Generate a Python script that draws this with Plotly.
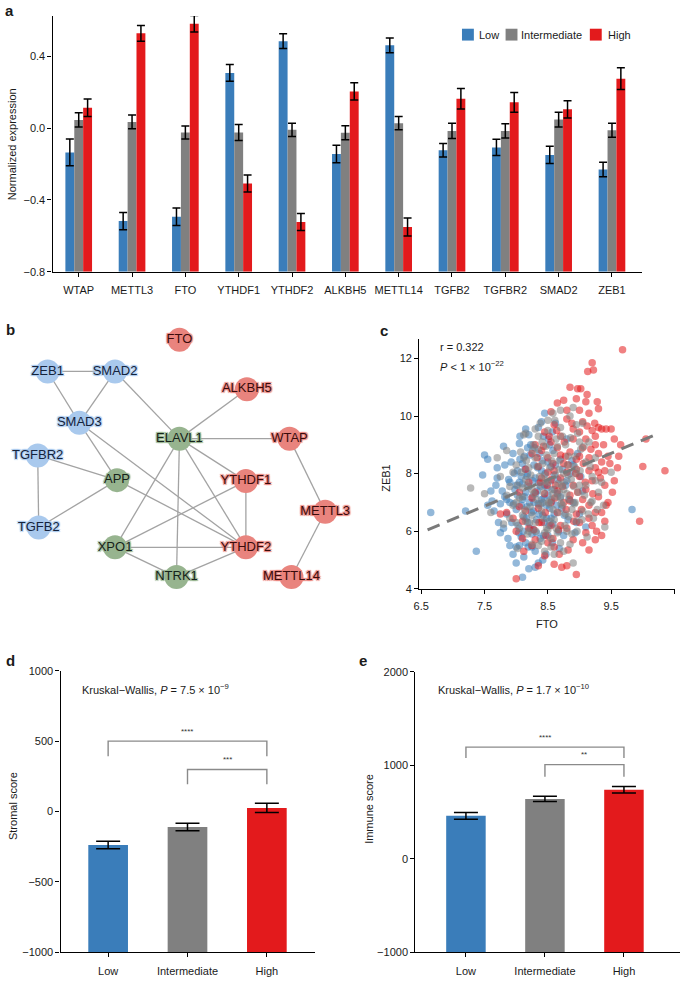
import plotly.graph_objects as go

# ---------------- data ----------------
genes = ["WTAP", "METTL3", "FTO", "YTHDF1", "YTHDF2", "ALKBH5", "METTL14",
         "TGFB2", "TGFBR2", "SMAD2", "ZEB1"]
low_vals = [-0.135, -0.518, -0.494, 0.308, 0.485, -0.144, 0.462, -0.123, -0.107, -0.149, -0.230]
low_err = [0.075, 0.048, 0.049, 0.047, 0.041, 0.049, 0.041, 0.037, 0.045, 0.048, 0.040]
int_vals = [0.046, 0.035, -0.024, -0.024, -0.009, -0.026, 0.028, -0.015, -0.015, 0.048, -0.011]
int_err = [0.040, 0.038, 0.036, 0.044, 0.037, 0.039, 0.037, 0.043, 0.040, 0.041, 0.039]
high_vals = [0.114, 0.529, 0.582, -0.308, -0.523, 0.205, -0.551, 0.164, 0.144, 0.105, 0.276]
high_err = [0.049, 0.044, 0.046, 0.047, 0.047, 0.048, 0.050, 0.057, 0.055, 0.048, 0.061]

groups = ["Low", "Intermediate", "High"]
colors = ["#3a7dba", "#808080", "#e31a1c"]

# network (panel b)
node_names = ["FTO", "ZEB1", "SMAD2", "ALKBH5", "SMAD3", "ELAVL1", "WTAP", "TGFBR2",
              "APP", "YTHDF1", "METTL3", "TGFB2", "XPO1", "YTHDF2", "NTRK1", "METTL14"]
node_x = [175, 42, 110, 243, 74, 175, 286, 32, 112, 242, 322, 33, 110, 242, 172, 288]
node_y = [338, 370, 370, 388, 422, 438, 438, 455, 480, 481, 512, 528, 548, 548, 578, 578]
node_group = ["m6A", "TGF", "TGF", "m6A", "TGF", "PPI", "m6A", "TGF",
              "PPI", "m6A", "m6A", "TGF", "PPI", "m6A", "PPI", "m6A"]
edges = [("ZEB1", "SMAD2"), ("ZEB1", "SMAD3"), ("SMAD2", "SMAD3"), ("SMAD2", "ELAVL1"),
         ("SMAD3", "APP"), ("SMAD3", "YTHDF2"), ("TGFBR2", "APP"), ("TGFBR2", "TGFB2"),
         ("TGFB2", "APP"), ("APP", "YTHDF2"), ("ELAVL1", "ALKBH5"), ("ELAVL1", "WTAP"),
         ("ELAVL1", "YTHDF1"), ("ELAVL1", "YTHDF2"), ("ELAVL1", "NTRK1"), ("ELAVL1", "XPO1"),
         ("YTHDF1", "XPO1"), ("YTHDF1", "YTHDF2"), ("XPO1", "YTHDF2"), ("XPO1", "NTRK1"),
         ("NTRK1", "YTHDF2"), ("WTAP", "METTL3"), ("METTL3", "METTL14")]

# scatter (panel c): (FTO, ZEB1)
low_points = [
    (6.65, 6.65), (7.2, 6.7), (7.37, 5.3), (7.5, 8.65), (7.55, 8.5), (7.47, 7.95), (7.6, 7.4), (7.62, 7.05), (7.55, 6.9), (7.68, 7.6),
    (7.7, 8.2), (7.72, 6.3), (7.75, 5.95), (7.8, 8.95), (7.82, 7.2), (7.85, 6.6), (7.88, 7.8), (7.9, 5.5), (7.92, 8.4), (7.95, 5.2),
    (7.96, 6.95), (7.98, 7.45), (8.0, 4.9), (8.02, 8.1), (8.03, 6.2), (8.05, 7.7), (8.06, 9.3), (8.08, 5.8), (8.1, 4.4), (8.1, 7.1),
    (8.12, 6.5), (8.13, 8.6), (8.15, 7.35), (8.15, 5.6), (8.17, 6.85), (8.18, 8.0), (8.2, 7.55), (8.2, 4.7), (8.22, 6.1), (8.23, 9.0),
    (8.25, 7.2), (8.25, 5.9), (8.27, 6.7), (8.28, 8.3), (8.3, 7.85), (8.3, 5.3), (8.32, 6.4), (8.33, 7.4), (8.35, 9.6), (8.35, 6.95),
    (8.37, 8.7), (8.38, 5.75), (8.4, 7.1), (8.4, 8.1), (8.42, 6.55), (8.43, 9.3), (8.45, 10.1), (8.45, 7.6), (8.47, 5.2), (8.48, 6.9),
    (8.5, 8.4), (8.5, 7.25), (8.52, 6.2), (8.53, 9.0), (8.55, 7.75), (8.57, 5.6), (8.58, 8.8), (8.6, 6.6), (8.6, 7.95), (8.62, 9.75),
    (8.65, 7.3), (8.67, 6.0), (8.7, 8.5), (8.72, 6.8), (8.75, 5.85), (8.78, 7.6), (8.8, 9.2), (8.82, 6.4), (8.85, 8.0), (8.9, 7.0),
    (8.93, 5.95), (8.97, 8.7), (9.0, 6.6), (9.05, 7.4), (9.1, 6.15), (9.83, 6.75), (7.9, 7.0), (8.0, 7.6), (8.1, 8.35), (8.18, 6.3),
    (8.28, 7.0), (8.36, 7.7), (8.44, 6.3), (8.08, 7.9), (7.78, 7.4), (7.65, 6.7), (8.55, 6.45), (8.15, 9.55), (8.5, 5.85), (8.35, 4.9),
    (7.85, 7.1), (7.9, 7.7), (7.93, 6.3), (7.97, 8.0), (8.0, 6.75), (8.02, 7.25), (8.04, 5.95), (8.06, 8.5), (8.08, 6.9), (8.1, 7.65),
    (8.11, 6.0), (8.13, 7.2), (8.14, 8.15), (8.16, 6.45), (8.17, 7.9), (8.19, 5.45), (8.21, 7.0), (8.22, 8.65), (8.24, 6.65), (8.26, 7.75),
    (8.27, 6.05), (8.29, 8.9), (8.31, 7.3), (8.32, 5.95), (8.34, 8.2), (8.36, 6.6), (8.38, 7.55), (8.39, 6.95), (8.41, 8.45), (8.43, 5.85),
    (8.44, 7.15), (8.46, 8.0), (8.48, 6.45), (8.49, 7.5), (8.51, 9.2), (8.53, 6.8), (8.55, 8.25), (8.56, 7.05), (8.58, 6.25), (8.6, 7.45),
    (8.62, 8.3), (8.64, 6.9), (8.66, 7.8), (8.68, 5.4), (8.7, 7.2), (8.73, 8.15), (8.76, 6.55), (8.8, 7.75), (8.84, 7.1), (8.88, 8.45),
    (7.7, 7.85), (7.75, 6.95), (7.8, 6.1), (7.82, 8.3), (7.87, 5.75), (8.05, 9.05), (8.2, 9.35), (8.3, 4.75), (8.12, 5.1), (8.25, 5.45),
    (8.42, 5.0), (8.05, 5.5), (7.95, 8.7), (8.0, 5.45), (8.18, 8.9), (8.4, 9.8), (8.57, 9.45), (8.9, 8.3), (8.95, 6.3), (9.02, 7.9),
]
int_points = [
    (7.28, 7.5), (7.5, 7.3), (7.6, 6.65), (7.7, 8.55), (7.75, 7.9), (7.8, 6.25), (7.85, 8.8), (7.9, 7.55), (7.95, 6.9), (8.0, 8.3),
    (8.02, 5.4), (8.05, 7.15), (8.07, 8.75), (8.1, 6.55), (8.12, 9.35), (8.15, 9.4), (8.15, 7.8), (8.18, 5.9), (8.2, 8.2), (8.22, 6.85),
    (8.25, 7.45), (8.27, 9.0), (8.3, 6.3), (8.3, 8.55), (8.32, 7.1), (8.35, 5.5), (8.37, 7.9), (8.38, 9.75), (8.4, 6.7), (8.42, 8.35),
    (8.43, 7.35), (8.45, 5.3), (8.47, 8.95), (8.48, 6.1), (8.5, 7.7), (8.5, 9.5), (8.52, 6.95), (8.53, 8.2), (8.55, 5.75), (8.57, 7.45),
    (8.58, 10.1), (8.6, 8.7), (8.6, 6.4), (8.62, 7.95), (8.63, 9.2), (8.65, 7.2), (8.67, 6.65), (8.68, 8.45), (8.7, 5.6), (8.7, 9.6),
    (8.72, 7.6), (8.73, 6.9), (8.75, 8.0), (8.77, 6.2), (8.78, 9.0), (8.8, 7.3), (8.82, 8.6), (8.83, 6.5), (8.85, 10.0), (8.87, 7.8),
    (8.88, 5.9), (8.9, 4.9), (8.9, 10.3), (8.92, 8.25), (8.93, 7.0), (8.95, 6.35), (8.97, 9.4), (9.0, 7.6), (9.02, 8.85), (9.05, 6.7),
    (9.08, 7.25), (9.1, 8.4), (9.12, 5.8), (9.15, 9.1), (9.18, 7.0), (9.2, 7.9), (9.22, 6.45), (9.25, 8.55), (9.3, 7.35), (9.35, 7.7),
    (9.38, 6.9), (9.4, 6.15), (9.5, 8.05), (8.2, 6.0), (8.35, 8.85), (8.45, 7.95), (8.55, 7.1), (8.65, 8.95), (8.75, 7.45), (8.4, 5.65),
    (8.6, 5.2), (8.0, 6.3), (8.1, 7.5), (8.25, 6.55), (8.5, 6.05), (8.7, 7.15), (8.8, 6.0), (8.95, 8.0), (9.05, 9.75), (8.3, 9.55),
    (8.02, 7.6), (8.05, 6.1), (8.08, 8.05), (8.1, 7.2), (8.13, 6.75), (8.16, 8.45), (8.18, 7.6), (8.21, 6.3), (8.23, 7.95), (8.26, 8.8),
    (8.28, 7.3), (8.31, 6.0), (8.33, 8.25), (8.36, 6.9), (8.38, 7.6), (8.41, 9.1), (8.43, 6.45), (8.46, 7.75), (8.48, 8.65), (8.51, 7.0),
    (8.53, 6.35), (8.56, 8.45), (8.58, 7.3), (8.61, 9.85), (8.63, 6.1), (8.66, 7.65), (8.68, 8.15), (8.71, 6.95), (8.73, 9.3), (8.76, 7.7),
    (8.78, 6.6), (8.81, 8.3), (8.83, 7.1), (8.86, 9.25), (8.88, 6.75), (8.91, 7.55), (8.93, 8.6), (8.96, 6.0), (8.98, 7.35), (9.01, 8.1),
    (9.04, 6.4), (9.07, 8.95), (9.1, 7.6), (9.14, 6.6), (9.17, 8.25), (9.2, 7.05), (9.25, 7.75), (9.28, 6.75), (8.45, 5.95), (8.55, 5.45),
    (8.65, 5.95), (8.25, 5.55), (8.75, 5.3), (8.85, 5.55), (8.15, 6.35), (8.35, 9.3), (8.5, 9.85), (8.7, 10.2), (8.95, 9.7), (9.0, 9.1),
    (7.85, 7.25), (7.95, 8.05), (7.9, 6.45), (8.0, 7.0), (8.12, 8.55), (8.42, 7.0), (8.58, 6.75), (8.68, 7.35), (8.82, 7.95), (8.92, 6.95),
]
high_points = [
    (9.68, 12.3), (9.2, 11.85), (9.13, 11.55), (9.22, 11.6), (8.85, 11.0), (8.97, 10.95), (9.02, 10.95), (9.65, 9.0), (9.62, 8.6), (10.05, 9.2),
    (10.0, 8.25), (10.35, 8.1), (9.95, 6.35), (9.55, 7.75), (8.0, 4.35), (8.95, 4.5), (8.35, 4.8), (8.6, 4.85), (8.8, 4.8), (9.15, 5.35),
    (9.42, 9.55), (9.35, 9.55), (9.3, 10.25), (9.28, 10.5), (9.12, 10.75), (8.75, 10.55), (8.65, 10.45), (8.55, 10.15), (8.6, 9.7), (8.7, 9.3),
    (8.8, 9.9), (8.9, 9.55), (9.0, 10.2), (9.05, 9.8), (9.1, 9.2), (9.2, 9.5), (9.25, 9.0), (9.3, 8.7), (9.35, 8.4), (9.4, 8.1),
    (9.45, 8.6), (9.25, 8.2), (9.15, 8.55), (9.05, 8.9), (8.95, 8.5), (8.85, 8.75), (8.75, 8.35), (8.65, 8.9), (8.55, 9.1), (8.5, 8.55),
    (8.45, 9.45), (8.4, 8.8), (8.35, 8.25), (8.3, 9.0), (8.6, 8.1), (8.7, 7.85), (8.8, 8.05), (8.9, 7.6), (9.0, 7.9), (9.1, 7.45),
    (9.2, 7.75), (9.3, 7.2), (9.4, 7.6), (9.35, 6.65), (9.25, 6.65), (9.15, 6.9), (9.05, 7.1), (8.95, 6.6), (8.85, 7.25), (8.75, 7.0),
    (8.65, 7.4), (8.55, 7.0), (8.45, 7.3), (8.35, 6.8), (8.25, 7.15), (8.15, 6.7), (8.05, 6.85), (7.95, 6.45), (8.1, 5.75), (8.2, 6.1),
    (8.3, 5.7), (8.4, 6.3), (8.5, 5.6), (8.6, 5.45), (8.7, 6.2), (8.8, 6.1), (8.9, 5.7), (9.0, 6.3), (9.1, 5.95), (9.2, 6.2),
    (8.45, 5.15), (8.25, 5.5), (7.85, 6.65), (7.75, 6.6), (8.55, 7.8), (8.65, 6.65), (9.15, 8.1), (8.95, 8.15), (9.5, 9.55), (8.38, 7.7),
    (9.0, 8.6), (8.9, 9.2), (8.78, 8.6), (8.62, 7.6), (8.5, 8.05), (9.3, 9.6), (9.1, 10.5), (9.45, 7.0), (9.55, 9.2), (9.35, 5.85),
    (8.3, 7.35), (8.33, 8.55), (8.36, 6.3), (8.4, 7.85), (8.43, 8.95), (8.46, 6.65), (8.49, 7.6), (8.52, 9.3), (8.55, 6.2), (8.58, 8.35),
    (8.61, 7.15), (8.64, 9.5), (8.67, 6.05), (8.7, 8.65), (8.73, 7.55), (8.76, 9.1), (8.79, 6.75), (8.82, 8.3), (8.85, 7.05), (8.88, 9.75),
    (8.91, 6.35), (8.94, 8.0), (8.97, 7.35), (9.0, 9.45), (9.03, 6.75), (9.06, 8.35), (9.09, 7.7), (9.12, 9.65), (9.15, 6.45), (9.18, 8.85),
    (9.21, 7.3), (9.24, 9.75), (9.27, 6.0), (9.3, 8.05), (9.33, 7.85), (9.38, 9.0), (9.42, 6.9), (9.48, 8.35), (9.52, 7.35), (9.6, 8.2),
    (8.2, 7.7), (8.15, 8.15), (8.1, 6.35), (8.05, 7.35), (8.0, 6.0), (8.25, 8.7), (8.12, 5.3), (8.28, 6.05), (8.47, 5.85), (8.58, 5.75),
    (8.68, 5.2), (8.72, 4.75), (8.82, 5.35), (9.05, 5.6), (9.25, 5.7), (9.4, 6.35), (8.8, 10.2), (8.95, 10.6), (9.15, 10.1), (9.25, 9.3),
]
fit_x = [6.6, 10.2]
fit_y = [6.05, 9.35]

# panels d / e
stromal_vals = [-238, -110, 26]
stromal_err = [27, 26, 33]
immune_vals = [459, 640, 738]
immune_err = [35, 28, 34]
stromal_brackets = [(0, 2, 500, 393, "****"), (1, 2, 299, 193, "***")]
immune_brackets = [(0, 2, 1194, 1078, "****"), (1, 2, 1007, 876, "**")]

# ---------------- figure ----------------
W, H = 684, 982
FONT = "Liberation Sans, Arial, sans-serif"
A_BASE, D_BASE, E_BASE = -0.8, -1000, -1000


def px(x):
    return x / W


def py(y):
    return 1 - y / H


fig = go.Figure()

# panel a bars (drawn up from the bottom of the axis)
for name, vals, errs, col in zip(groups, [low_vals, int_vals, high_vals],
                                 [low_err, int_err, high_err], colors):
    fig.add_trace(go.Bar(
        x=genes, y=[v - A_BASE for v in vals], base=A_BASE, name=name,
        marker=dict(color=col, line=dict(width=0)),
        error_y=dict(type="data", array=errs, color="black", thickness=1.5, width=4),
        xaxis="x", yaxis="y", showlegend=False))

# panel b network
pos = {n: (x, y) for n, x, y in zip(node_names, node_x, node_y)}
ex, ey = [], []
for a, b in edges:
    ex += [pos[a][0], pos[b][0], None]
    ey += [pos[a][1], pos[b][1], None]
fig.add_trace(go.Scatter(x=ex, y=ey, mode="lines", line=dict(color="#a3a3a3", width=1.3),
                         xaxis="x2", yaxis="y2", showlegend=False, hoverinfo="skip"))
node_style = {"TGF": ("#a9c9ed", "#14233c"), "PPI": ("#97b48f", "#16231a"), "m6A": ("#e9847e", "#3a0b0b")}
for g, (fill, tcol) in node_style.items():
    idx = [i for i, gg in enumerate(node_group) if gg == g]
    shadow = ", ".join(f"{dx}px {dy}px 1px {fill}" for dx, dy in [(1, 1), (-1, -1), (1, -1), (-1, 1), (0, 0)])
    fig.add_trace(go.Scatter(
        x=[node_x[i] for i in idx], y=[node_y[i] for i in idx], text=[node_names[i] for i in idx],
        mode="markers+text", textposition="middle center", cliponaxis=False,
        marker=dict(size=24, color=fill, line=dict(width=0)),
        textfont=dict(family=FONT, size=13, color=tcol, shadow=shadow),
        xaxis="x2", yaxis="y2", showlegend=False))

# panel c scatter (low, high, then intermediate on top)
for k in [0, 2, 1]:
    pts = [low_points, int_points, high_points][k]
    fig.add_trace(go.Scatter(
        x=[p[0] for p in pts], y=[p[1] for p in pts], mode="markers",
        marker=dict(size=7.5, color=colors[k], opacity=0.55, line=dict(width=0)),
        xaxis="x3", yaxis="y3", showlegend=False))
fig.add_trace(go.Scatter(x=fit_x, y=fit_y, mode="lines",
                         line=dict(color="#7a7a7a", width=3, dash="13px,8px"),
                         xaxis="x3", yaxis="y3", showlegend=False))

# panels d, e
for vals, errs, ax, base in [(stromal_vals, stromal_err, "4", D_BASE), (immune_vals, immune_err, "5", E_BASE)]:
    fig.add_trace(go.Bar(
        x=groups, y=[v - base for v in vals], base=base,
        marker=dict(color=colors, line=dict(width=0)),
        error_y=dict(type="data", array=errs, color="black", thickness=1.5, width=12),
        xaxis="x" + ax, yaxis="y" + ax, showlegend=False))

axis_common = dict(showline=True, linecolor="black", linewidth=1.3, ticks="outside",
                   ticklen=4, tickwidth=1.3, tickcolor="black", showgrid=False, zeroline=False,
                   tickfont=dict(family=FONT, size=11, color="#1a1a1a"))

fig.update_layout(
    width=W, height=H, margin=dict(l=0, r=0, t=0, b=0),
    paper_bgcolor="white", plot_bgcolor="white",
    font=dict(family=FONT, size=11, color="#1a1a1a"),
    barmode="group", bargap=0.5, bargroupgap=0,
    xaxis=dict(domain=[px(47), px(642)], range=[-0.49, 10.57], anchor="y",
               ticklabelstandoff=4, **axis_common),
    yaxis=dict(domain=[py(269), py(10)], range=[-0.8, 0.626], anchor="x",
               tickvals=[-0.8, -0.4, 0, 0.4], tickformat=".1f", **axis_common),
    xaxis2=dict(domain=[0, px(342)], range=[0, 342], visible=False, anchor="y2"),
    yaxis2=dict(domain=[py(620), py(300)], range=[620, 300], visible=False, anchor="x2"),
    xaxis3=dict(domain=[px(417), px(675)], range=[6.47, 10.51], anchor="y3",
                tickvals=[6.5, 7.5, 8.5, 9.5, 10.5], ticklabelstandoff=3, **axis_common),
    yaxis3=dict(domain=[py(590), py(337)], range=[4, 12.68], anchor="x3",
                tickvals=[4, 6, 8, 10, 12], **axis_common),
    xaxis4=dict(domain=[px(55), px(312)], range=[-0.6, 2.61], anchor="y4",
                ticklabelstandoff=4, **axis_common),
    yaxis4=dict(domain=[py(958), py(673)], range=[-1000, 1000], anchor="x4",
                tickvals=[-1000, -500, 0, 500, 1000], **axis_common),
    xaxis5=dict(domain=[px(413), px(680)], range=[-0.64, 2.71], anchor="y5",
                ticklabelstandoff=4, **axis_common),
    yaxis5=dict(domain=[py(958), py(674)], range=[-1000, 2000], anchor="x5",
                tickvals=[-1000, 0, 1000, 2000], **axis_common),
)

ann = []
shapes = []


def text(x, y, s, size=11, angle=0, xanchor="center", bold=False):
    ann.append(dict(x=px(x), y=py(y), xref="paper", yref="paper", text=f"<b>{s}</b>" if bold else s,
                    showarrow=False, textangle=angle, xanchor=xanchor, yanchor="middle",
                    font=dict(family=FONT, size=size, color="#1a1a1a")))


# panel labels
text(4, 5, "a", 15, bold=True)
text(5, 328, "b", 15, bold=True)
text(381, 329, "c", 15, bold=True)
text(5, 663, "d", 15, bold=True)
text(360, 663, "e", 15, bold=True)

# axis titles
text(6, 140, "Normalized expression", 11, angle=-90)
text(384, 478, "ZEB1", 11, angle=-90)
text(546, 626, "FTO", 11)
text(7, 810, "Stromal score", 11, angle=-90)
text(366, 813, "Immune score", 11, angle=-90)

# stats text
text(436, 345, "r = 0.322", 11, xanchor="left")
text(436, 364, "<i>P</i> < 1 × 10<sup>−22</sup>", 11, xanchor="left")
text(75, 691, "Kruskal−Wallis, <i>P</i> = 7.5 × 10<sup>−9</sup>", 11, xanchor="left")
text(434, 691, "Kruskal−Wallis, <i>P</i> = 1.7 × 10<sup>−10</sup>", 11, xanchor="left")

# legend (manual)
for (x0, lab, tx), col in zip([(460, "Low", 475), (504, "Intermediate", 518), (589, "High", 605)], colors):
    shapes.append(dict(type="rect", xref="paper", yref="paper", x0=px(x0), x1=px(x0 + 12),
                       y0=py(35), y1=py(23), fillcolor=col, line=dict(width=0)))
    text(tx, 29, lab, 11, xanchor="left")

# significance brackets
for brackets, ax in [(stromal_brackets, "4"), (immune_brackets, "5")]:
    span = 2000 if ax == "4" else 3000
    for g0, g1, ytop, ybot, stars in brackets:
        shapes.append(dict(type="path", xref="x" + ax, yref="y" + ax,
                           path=f"M {g0},{ybot} L {g0},{ytop} L {g1},{ytop} L {g1},{ybot}",
                           line=dict(color="#8a8a8a", width=1.4)))
        ann.append(dict(x=(g0 + g1) / 2, y=ytop + span * 0.035, xref="x" + ax, yref="y" + ax,
                        text=stars, showarrow=False, yanchor="middle",
                        font=dict(family=FONT, size=8, color="#333")))

fig.update_layout(annotations=ann, shapes=shapes)
fig.write_html("out.html", config={"displayModeBar": False},
               post_script="document.body.style.margin='0';")
